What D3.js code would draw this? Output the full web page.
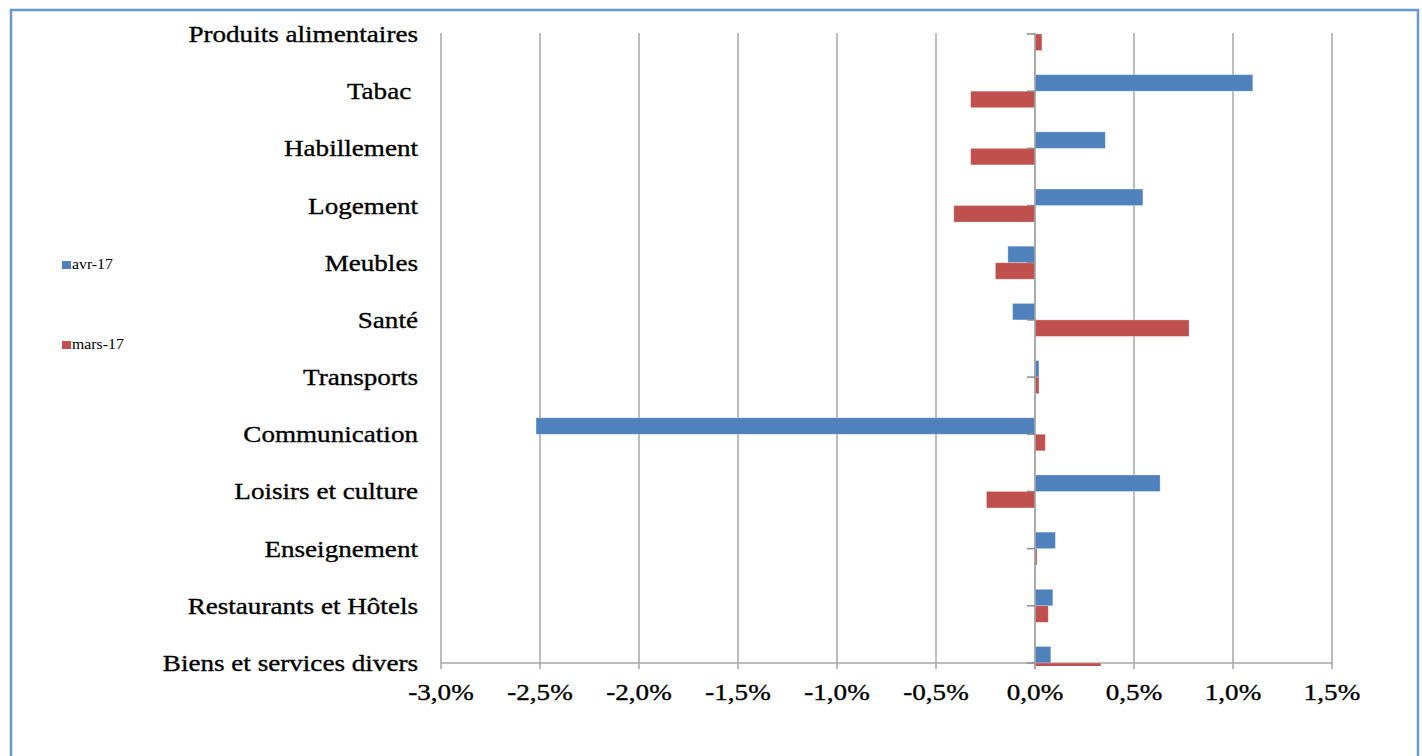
<!DOCTYPE html>
<html><head><meta charset="utf-8">
<script src="https://cdn.jsdelivr.net/npm/d3@7"></script>
<style>body{margin:0;background:#fff;} svg{display:block;}</style>
</head><body>
<svg id="chart" width="1422" height="756"></svg>
<script>
const categories = ["Produits alimentaires","Tabac ","Habillement","Logement","Meubles","Santé","Transports","Communication","Loisirs et culture","Enseignement","Restaurants et Hôtels","Biens et services divers"];
const avr17 = [0, 1.10, 0.355, 0.545, -0.137, -0.113, 0.02, -2.52, 0.632, 0.103, 0.09, 0.08];
const mars17 = [0.035, -0.325, -0.325, -0.41, -0.20, 0.778, 0.02, 0.052, -0.245, 0.01, 0.067, 0.333];
const xTicks = [-3.0, -2.5, -2.0, -1.5, -1.0, -0.5, 0.0, 0.5, 1.0, 1.5];
const seriesNames = ["avr-17", "mars-17"];
const colors = ["#4f81bd", "#c0504d"];

const svg = d3.select("#chart");
const SX = 1.13;
const fmt = v => v.toFixed(1).replace(".", ",") + "%";

// frame
svg.append("rect").attr("x", 11).attr("y", 10).attr("width", 1407).attr("height", 760)
  .attr("fill", "none").attr("stroke", "#6c97cc").attr("stroke-width", 2.5);

const x = d3.scaleLinear().domain([-3.0, 1.5]).range([441, 1332]);
const y = d3.scalePoint().domain(categories).range([34, 663]).padding(0);
const bh = 16.5;

// vertical gridlines
svg.append("g").selectAll("line").data(xTicks).join("line")
  .attr("x1", d => x(d)).attr("x2", d => x(d))
  .attr("y1", 33).attr("y2", 669)
  .attr("stroke", "#a6a6a6").attr("stroke-width", 1.5);

// bottom axis line
svg.append("line").attr("x1", x(-3.0)).attr("x2", x(1.5)).attr("y1", 663).attr("y2", 663)
  .attr("stroke", "#a6a6a6").attr("stroke-width", 1.5);

// clip
svg.append("clipPath").attr("id", "plotclip").append("rect")
  .attr("x", 400).attr("y", 34).attr("width", 1000).attr("height", 632);

const bars = svg.append("g").attr("clip-path", "url(#plotclip)");
[avr17, mars17].forEach((vals, si) => {
  bars.append("g").selectAll("rect").data(categories).join("rect")
    .attr("x", (c, i) => Math.min(x(0), x(vals[i])))
    .attr("width", (c, i) => Math.abs(x(vals[i]) - x(0)))
    .attr("y", c => si === 0 ? y(c) - bh : y(c))
    .attr("height", bh)
    .attr("fill", colors[si])
    .attr("stroke", "rgba(255,255,255,0.35)").attr("stroke-width", 0.8);
});

// category axis at zero with ticks to the left
svg.append("line").attr("x1", x(0)).attr("x2", x(0)).attr("y1", 33).attr("y2", 669)
  .attr("stroke", "#a6a6a6").attr("stroke-width", 1.5);
svg.append("g").selectAll("line").data(categories).join("line")
  .attr("x1", x(0) - 8).attr("x2", x(0)).attr("y1", c => y(c)).attr("y2", c => y(c))
  .attr("stroke", "#8c8c8c").attr("stroke-width", 1.5);

const font = "'Liberation Serif','Times New Roman',serif";

// category labels
svg.append("g").selectAll("text").data(categories).join("text")
  .attr("transform", c => `translate(418,${y(c) + 8}) scale(${SX},1)`)
  .attr("text-anchor", "end").attr("font-family", font).attr("font-size", 24)
  .attr("stroke", "#000").attr("stroke-width", 0.35)
  .attr("xml:space", "preserve")
  .attr("fill", "#000").text(c => c);

// x tick labels
svg.append("g").selectAll("text").data(xTicks).join("text")
  .attr("transform", d => `translate(${x(d)},700) scale(${SX},1)`)
  .attr("text-anchor", "middle").attr("font-family", font).attr("font-size", 24)
  .attr("stroke", "#000").attr("stroke-width", 0.35)
  .attr("fill", "#000").text(d => fmt(d));

// legend
const legY = [261, 341];
const leg = svg.append("g").selectAll("g").data(seriesNames).join("g");
leg.append("rect").attr("x", 62).attr("y", (d, i) => legY[i]).attr("width", 9).attr("height", 8)
  .attr("fill", (d, i) => colors[i]);
leg.append("text")
  .attr("transform", (d, i) => `translate(72,${legY[i] + 8}) scale(${SX},1)`)
  .attr("font-family", font).attr("font-size", 14).attr("fill", "#000").text(d => d);
</script>
</body></html>
